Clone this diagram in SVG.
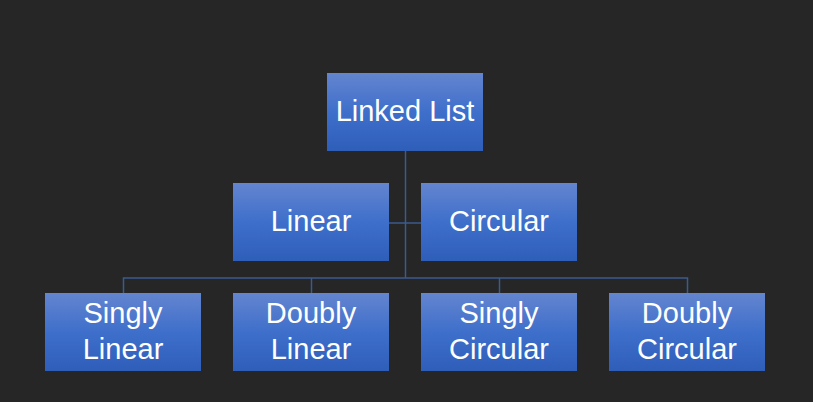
<svg xmlns="http://www.w3.org/2000/svg" width="813" height="402" viewBox="0 0 813 402">
  <defs>
    <linearGradient id="g" x1="0" y1="0" x2="0" y2="1">
      <stop offset="0" stop-color="#6485cf"/>
      <stop offset="0.5" stop-color="#3e6fcb"/>
      <stop offset="1" stop-color="#2e5eb8"/>
    </linearGradient>
  </defs>
  <style>
    .box { fill: url(#g); }
    .lbl { font-family: "Liberation Sans", Arial, sans-serif; font-size: 29px; fill: #ffffff; text-anchor: middle; }
    .con { stroke: #3b5b8e; stroke-width: 1.5; fill: none; }
  </style>
  <rect width="813" height="402" fill="#262626"/>
  <g id="connectors">
    <path class="con" d="M405.5 151 V278"/>
    <path class="con" d="M389 223 H421"/>
    <path class="con" d="M123.5 293 V278 H687.5 V293"/>
    <path class="con" d="M311.5 278 V293"/>
    <path class="con" d="M499.5 278 V293"/>
  </g>
  <g id="linked-list">
    <rect class="box" x="327" y="73" width="156" height="78"/>
    <text class="lbl" x="405" y="121">Linked List</text>
  </g>
  <g id="linear">
    <rect class="box" x="233" y="183" width="156" height="78"/>
    <text class="lbl" x="311" y="231">Linear</text>
  </g>
  <g id="circular">
    <rect class="box" x="421" y="183" width="156" height="78"/>
    <text class="lbl" x="499" y="231">Circular</text>
  </g>
  <g id="singly-linear">
    <rect class="box" x="45" y="293" width="156" height="78"/>
    <text class="lbl" x="123" y="323">Singly</text>
    <text class="lbl" x="123" y="359">Linear</text>
  </g>
  <g id="doubly-linear">
    <rect class="box" x="233" y="293" width="156" height="78"/>
    <text class="lbl" x="311" y="323">Doubly</text>
    <text class="lbl" x="311" y="359">Linear</text>
  </g>
  <g id="singly-circular">
    <rect class="box" x="421" y="293" width="156" height="78"/>
    <text class="lbl" x="499" y="323">Singly</text>
    <text class="lbl" x="499" y="359">Circular</text>
  </g>
  <g id="doubly-circular">
    <rect class="box" x="609" y="293" width="156" height="78"/>
    <text class="lbl" x="687" y="323">Doubly</text>
    <text class="lbl" x="687" y="359">Circular</text>
  </g>
</svg>
